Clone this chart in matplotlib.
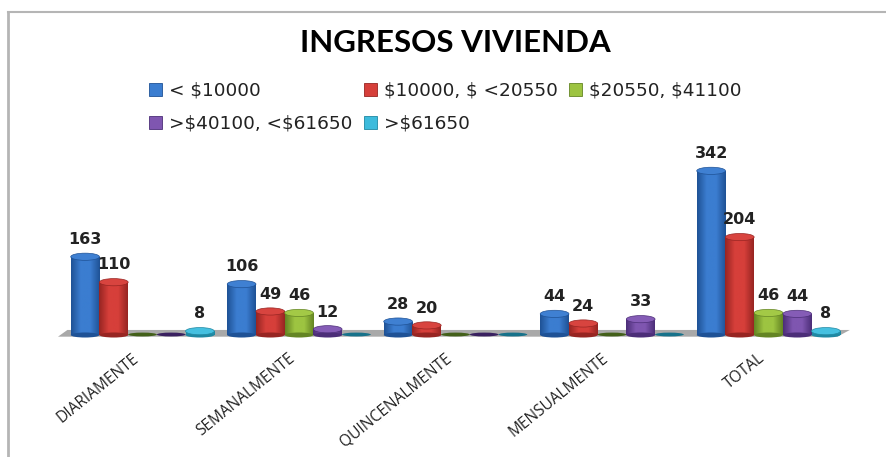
import numpy as np
import matplotlib
matplotlib.use("Agg")
import matplotlib.pyplot as plt
from matplotlib.colors import LinearSegmentedColormap
from matplotlib.lines import Line2D
from matplotlib.patches import Ellipse, Patch, Polygon
from matplotlib.transforms import ScaledTranslation

# data
categories = ["DIARIAMENTE", "SEMANALMENTE", "QUINCENALMENTE", "MENSUALMENTE", "TOTAL"]
series_names = ["< $10000", "$10000, $ <20550", "$20550, $41100", ">$40100, <$61650", ">$61650"]
menos_10000 = [163, 106, 28, 44, 342]
hasta_20550 = [110, 49, 20, 24, 204]
hasta_41100 = [0, 46, 0, 0, 46]
hasta_61650 = [0, 12, 0, 33, 44]
mas_61650 = [8, 0, 0, 0, 8]
all_series = [menos_10000, hasta_20550, hasta_41100, hasta_61650, mas_61650]

# dark side, middle, cap colour, empty disc colour for each series
dark = ["#1f5296", "#972522", "#648524", "#4c2e78", "#1f88a2"]
mid = ["#3b7dd0", "#d63f3a", "#9dc441", "#7f56b0", "#3dbbdc"]
cap = ["#3f80d2", "#d8443f", "#a3c946", "#855cb6", "#45c0e0"]
flat = ["#1f4f8f", "#8c1f1c", "#43601a", "#3a2160", "#17728a"]

W, H = 887, 457
fig = plt.figure(figsize=(W / 100, H / 100), dpi=100)
fig.patch.set_facecolor("white")

# plot area in pixels
left, right, top, base = 64.25, 846.75, 167, 335
ax = fig.add_axes([left / W, (H - base) / H, (right - left) / W, (base - top) / H])
ax.set_facecolor("none")
ax.set_xlim(-0.5, 4.5)
ax.set_ylim(0, 350)

bar_w = 0.1834
cap_h = 15  # in value units, about 7 px

# floor under the bars
floor = Polygon([[-0.008, -0.01], [0.988, -0.01], [1.004, 0.03], [0.004, 0.03]],
                closed=True, transform=ax.transAxes, facecolor="#a9a9a9",
                edgecolor="none", clip_on=False, zorder=1)
ax.add_patch(floor)

for s, values in enumerate(all_series):
    cmap = LinearSegmentedColormap.from_list("c", [dark[s], mid[s], mid[s], dark[s]])
    grad = np.linspace(0, 1, 64).reshape(1, -1)
    for i, v in enumerate(values):
        x = i + (s - 2) * bar_w
        z = 2 + s * 0.01 + i
        if v == 0:
            # empty series still shows a flat dark disc
            ax.add_patch(Ellipse((x, 1), bar_w, 8, facecolor=flat[s], edgecolor="none",
                                 clip_on=False, zorder=z))
            continue
        bar = ax.bar(x, v, bar_w, color=mid[s], zorder=z)[0]
        im = ax.imshow(grad, extent=[x - bar_w / 2, x + bar_w / 2, 0, v], aspect="auto",
                       cmap=cmap, zorder=z)
        im.set_clip_path(bar)
        ax.add_patch(Ellipse((x, 0), bar_w, cap_h * 0.7, facecolor=dark[s], edgecolor="none",
                             clip_on=False, zorder=z))
        ax.add_patch(Ellipse((x, v), bar_w, cap_h, facecolor=cap[s], edgecolor=dark[s],
                             linewidth=0.5, clip_on=False, zorder=z + 0.001))
        ax.annotate(str(v), (x, v), xytext=(0, 7), textcoords="offset points", ha="center",
                    va="bottom", fontsize=11.5, fontweight="bold", color="#222222",
                    family="DejaVu Sans", zorder=20, annotation_clip=False)

ax.set_xlim(-0.5, 4.5)
ax.set_ylim(0, 350)

for sp in ax.spines.values():
    sp.set_visible(False)
ax.set_yticks([])
ax.set_xticks(range(len(categories)))
ax.set_xticklabels(categories, rotation=39, ha="right", va="top", rotation_mode="anchor",
                   fontsize=11.2, color="#222222", family="Open Sans")
ax.tick_params(axis="x", length=0, pad=11)
# labels sit a little left of the group centre
shift = ScaledTranslation(-11 / 100, 0, fig.dpi_scale_trans)
for lab in ax.get_xticklabels():
    lab.set_transform(lab.get_transform() + shift)

# title
fig.text(455 / W, 1 - 43 / H, "INGRESOS VIVIENDA", ha="center", va="center",
         fontsize=22.5, fontweight="bold", family="Lato", color="black")

# legend fills by column, so the order is swapped to read by row
order = [0, 3, 1, 4, 2]
handles = [Patch(facecolor=mid[k], edgecolor=dark[k], linewidth=0.6, label=series_names[k]) for k in order]
leg = fig.legend(handles=handles, ncol=3, loc="upper left", bbox_to_anchor=(136 / W, 1 - 69 / H),
                 frameon=False, labelcolor="#222222", handlelength=0.7, handleheight=0.7,
                 handletextpad=0.4, columnspacing=0.6, labelspacing=0.8, borderpad=0.2,
                 prop={"family": "DejaVu Sans", "size": 13.3})
for t in leg.get_texts():
    t.set_parse_math(False)

# border of the original chart box
fig.add_artist(Line2D([8 / W, 8 / W], [0, 1 - 12 / H], color="#b5b5b5", linewidth=2))
fig.add_artist(Line2D([8 / W, 1], [1 - 12 / H, 1 - 12 / H], color="#b5b5b5", linewidth=1.5))

plt.savefig("out.png", dpi=100)
